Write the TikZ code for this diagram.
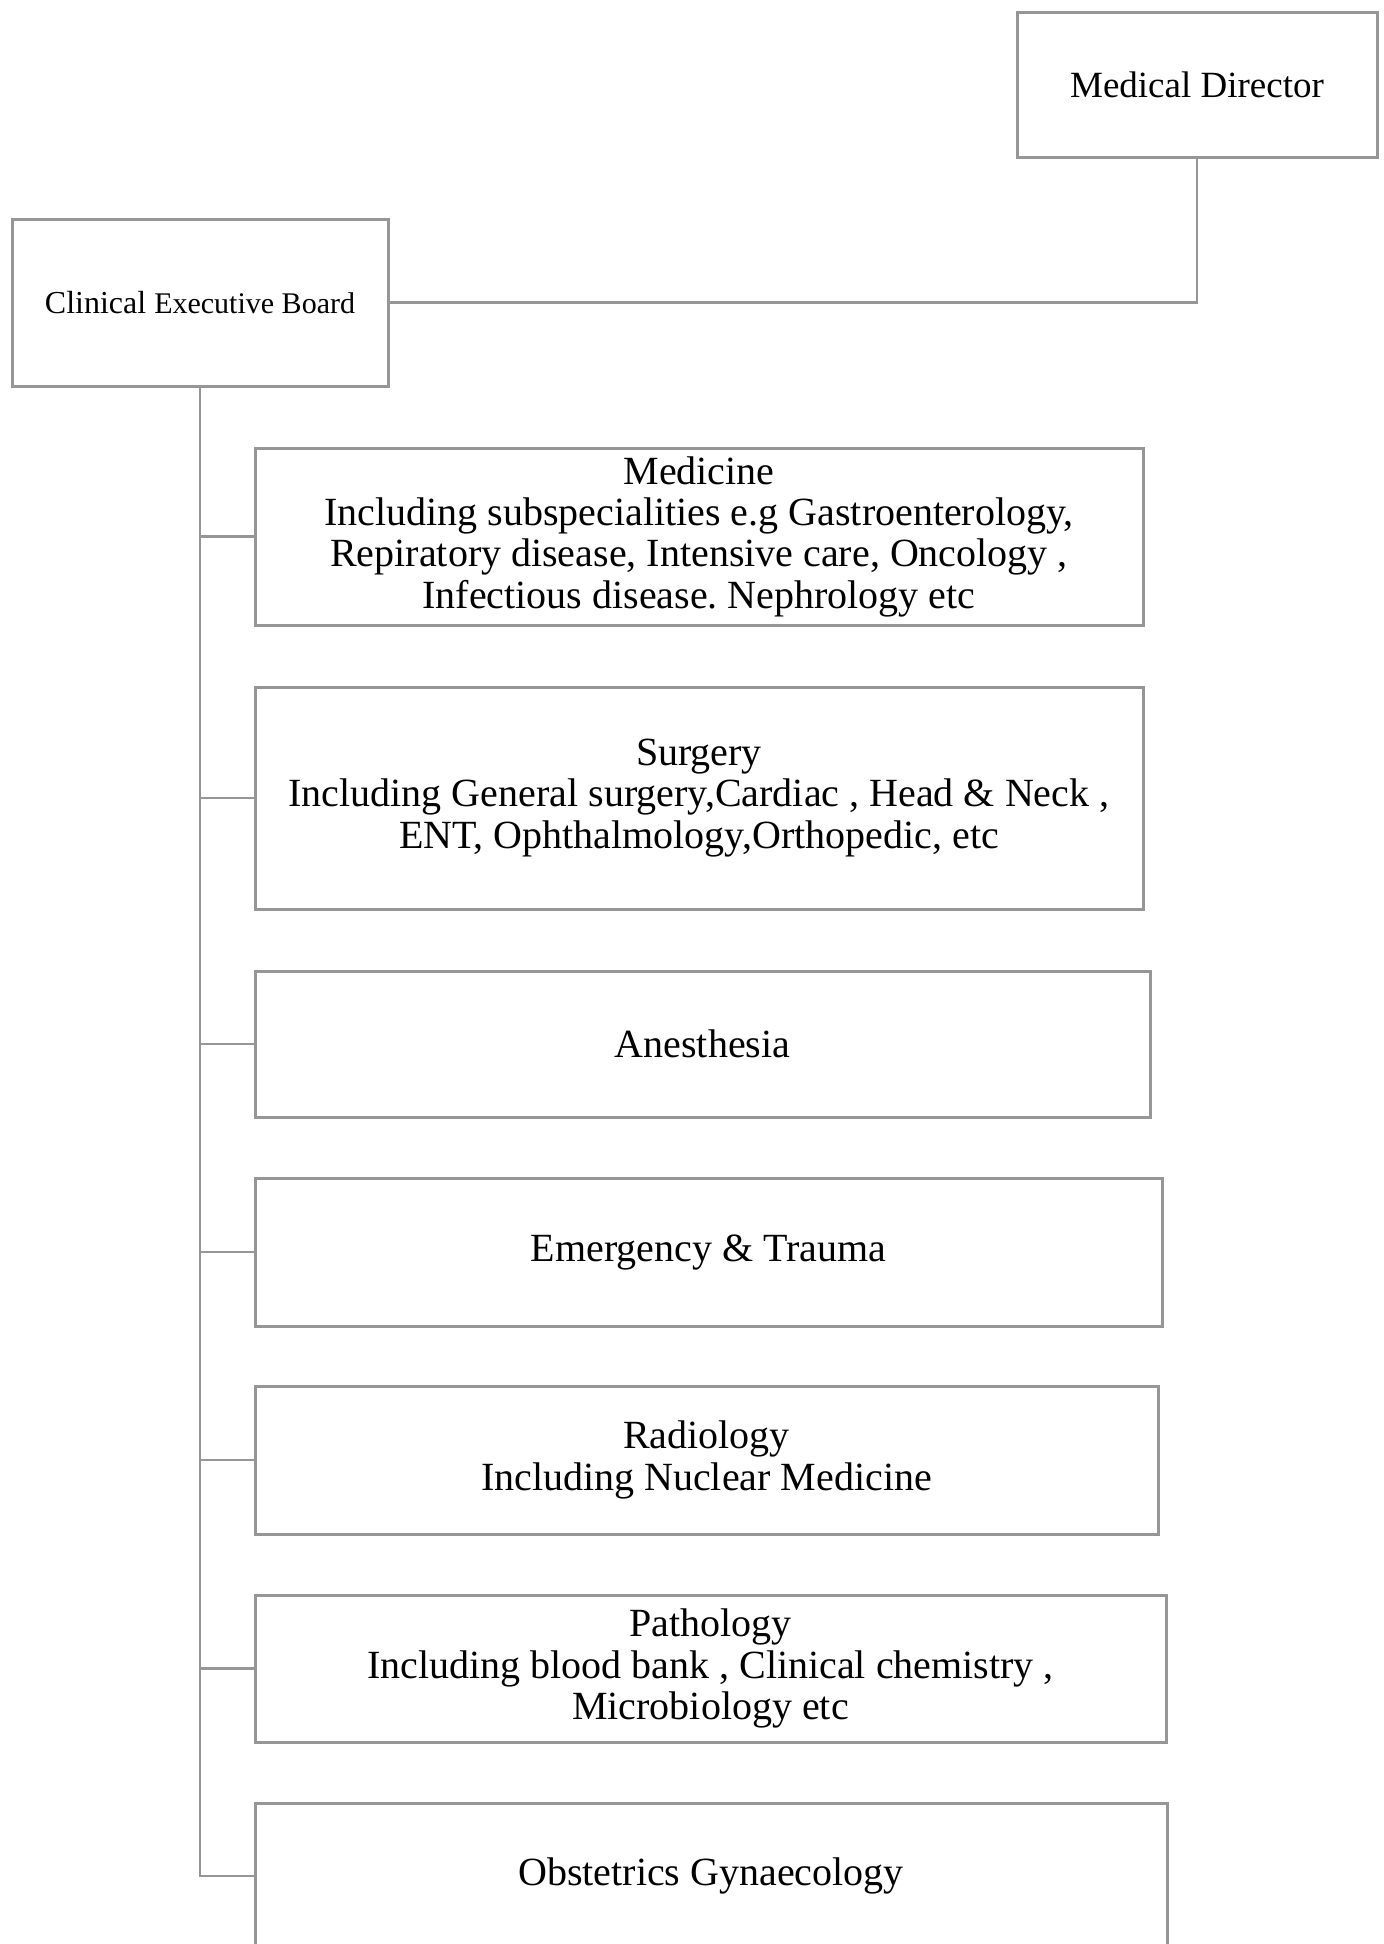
\documentclass[tikz,border=0pt]{standalone}
\usepackage{fontspec}
\setmainfont{Liberation Serif}
\frenchspacing
\definecolor{linegray}{RGB}{150,150,150}
\begin{document}
\begin{tikzpicture}[x=1pt,y=-1pt,
  box/.style={draw=linegray, line width=3pt, inner sep=0pt, outer sep=0pt, align=center, text=black},
  dept/.style={box, font=\fontsize{40}{41.3}\selectfont},
  link/.style={draw=linegray, line width=2.5pt}]
\useasboundingbox (0,0) rectangle (1384,1944);
\node[box, minimum width=360pt, minimum height=145pt, font=\fontsize{37}{43}\selectfont] (md) at (1197,84.5) {Medical Director};
\node[box, minimum width=376pt, minimum height=167pt] (ceb) at (200,302.5) {\fontsize{32}{36}\selectfont Clinical \fontsize{30}{36}\selectfont Executive Board};
\node[dept, minimum width=888pt, minimum height=177pt] (med) at (699,536.5) {Medicine\\Including subspecialities e.g Gastroenterology,\\Repiratory disease, Intensive care, Oncology ,\\Infectious disease. Nephrology etc};
\node[dept, minimum width=888pt, minimum height=222pt] (sur) at (699,798) {Surgery\\Including General surgery,Cardiac , Head \& Neck ,\\ENT, Ophthalmology,Orthopedic, etc};
\node[dept, minimum width=895pt, minimum height=146pt] (ane) at (702.5,1044) {Anesthesia};
\node[dept, minimum width=907pt, minimum height=148pt] (emt) at (708.5,1252) {Emergency \& Trauma};
\node[dept, minimum width=903pt, minimum height=148pt] (rad) at (706.5,1460) {Radiology\\Including Nuclear Medicine};
\node[dept, minimum width=911pt, minimum height=147pt] (pat) at (710.5,1668.5) {Pathology\\Including blood bank , Clinical chemistry ,\\Microbiology etc};
\node[dept, minimum width=912pt, minimum height=146pt] (obs) at (711,1876) {Obstetrics Gynaecology};
\draw[link] (ceb.east) -| (md.south);
\draw[link] (ceb.south) |- (obs.west);
\foreach \n in {med,sur,ane,emt,rad,pat}{
  \draw[link] (ceb.south |- \n.west) -- (\n.west);
}
\end{tikzpicture}
\end{document}
